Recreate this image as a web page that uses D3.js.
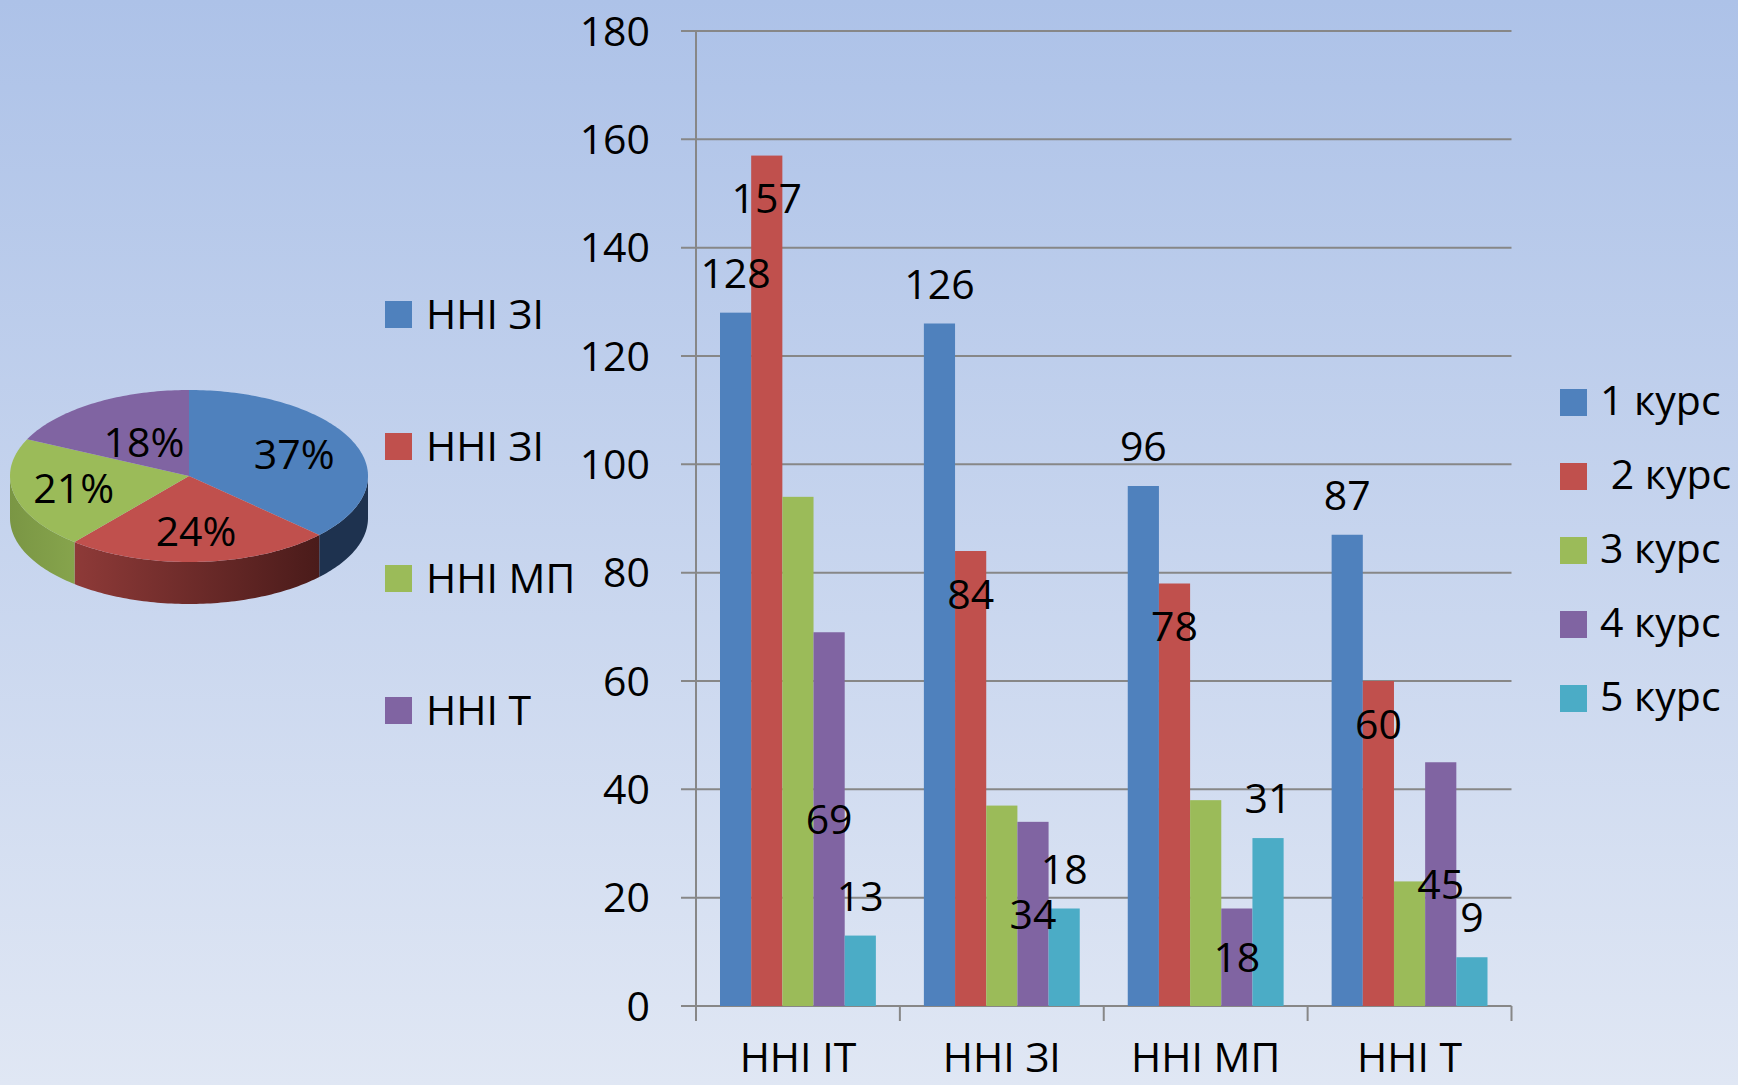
<!DOCTYPE html>
<html><head><meta charset="utf-8">
<script src="https://cdn.jsdelivr.net/npm/d3@7"></script>
<style>
html,body{margin:0;padding:0;overflow:hidden;}
svg{display:block;}
text{font-family:"Open Sans","Noto Sans","DejaVu Sans",sans-serif;fill:#000;}
</style></head>
<body>
<svg id="chart" width="1738" height="1085"></svg>
<script>
// ---------- data ----------
const categories = ["ННІ ІТ", "ННІ ЗІ", "ННІ МП", "ННІ Т"];
const seriesNames = ["1 курс", " 2 курс", "3 курс", "4 курс", "5 курс"];
const kurs1 = [128, 126, 96, 87];
const kurs2 = [157, 84, 78, 60];
const kurs3 = [94, 37, 38, 23];
const kurs4 = [69, 34, 18, 45];
const kurs5 = [13, 18, 31, 9];
const yTicks = [0, 20, 40, 60, 80, 100, 120, 140, 160, 180];
const pieLegend = ["ННІ ЗІ", "ННІ ЗІ", "ННІ МП", "ННІ Т"];
const pieLabels = ["37%", "24%", "21%", "18%"];

// ---------- style ----------
const seriesColors = ["#4F81BD", "#C0504D", "#9BBB59", "#8064A2", "#4BACC6"];
const labelMode = ["outside", "insideEnd", "none", "center", "outside"];
const FONT = 41;

const svg = d3.select("#chart");
const defs = svg.append("defs");
const bg = defs.append("linearGradient").attr("id", "bg").attr("x1", 0).attr("y1", 0).attr("x2", 0).attr("y2", 1);
bg.append("stop").attr("offset", "0%").attr("stop-color", "#ADC2E8");
bg.append("stop").attr("offset", "100%").attr("stop-color", "#E0E7F4");
svg.append("rect").attr("width", 1738).attr("height", 1085).attr("fill", "url(#bg)");

// ---------- bar chart ----------
const series = [kurs1, kurs2, kurs3, kurs4, kurs5];
const plotL = 696, plotR = 1511.5, plotT = 31, plotB = 1006;
const y = d3.scaleLinear().domain([0, 180]).range([plotB, plotT]);
const x0 = d3.scaleBand().domain(categories).range([plotL, plotR]).padding(0);
const x1 = d3.scaleBand().domain(d3.range(series.length)).range([0, x0.bandwidth()]).paddingInner(0).paddingOuter(0.77);

const grid = svg.append("g");
grid.selectAll("line").data(yTicks).join("line")
  .attr("x1", plotL - 15).attr("x2", plotR)
  .attr("y1", d => y(d)).attr("y2", d => y(d))
  .attr("stroke", "#878787").attr("stroke-width", 2);
svg.append("line").attr("x1", plotL).attr("x2", plotL).attr("y1", plotT).attr("y2", plotB + 15)
  .attr("stroke", "#878787").attr("stroke-width", 2);
svg.append("g").selectAll("line").data(categories).join("line")
  .attr("x1", (d, i) => plotL + (i + 1) * x0.step()).attr("x2", (d, i) => plotL + (i + 1) * x0.step())
  .attr("y1", plotB).attr("y2", plotB + 15)
  .attr("stroke", "#878787").attr("stroke-width", 2);

svg.append("g").selectAll("text").data(yTicks).join("text")
  .attr("x", 650).attr("y", d => y(d) + FONT * 0.357)
  .attr("text-anchor", "end").attr("font-size", FONT).text(d => d);

svg.append("g").selectAll("text").data(categories).join("text")
  .attr("x", d => x0(d) + x0.bandwidth() / 2).attr("y", 1072)
  .attr("text-anchor", "middle").attr("font-size", FONT).text(d => d);

const barG = svg.append("g");
series.forEach((vals, si) => {
  barG.append("g").selectAll("rect").data(vals).join("rect")
    .attr("x", (d, ci) => x0(categories[ci]) + x1(si))
    .attr("width", x1.bandwidth())
    .attr("y", d => y(d))
    .attr("height", d => plotB - y(d))
    .attr("fill", seriesColors[si]);
});
const half = FONT * 0.357;
series.forEach((vals, si) => {
  const mode = labelMode[si];
  if (mode === "none") return;
  barG.append("g").selectAll("text").data(vals).join("text")
    .attr("x", (d, ci) => x0(categories[ci]) + x1(si) + x1.bandwidth() / 2)
    .attr("y", d => {
      if (mode === "outside") return y(d) - 25;
      if (mode === "insideEnd") return y(d) + 43 + half;
      return (y(d) + plotB) / 2 + half;
    })
    .attr("text-anchor", "middle").attr("font-size", FONT).text(d => d);
});

// right legend
const lg = svg.append("g");
seriesNames.forEach((n, i) => {
  lg.append("rect").attr("x", 1560).attr("y", 389 + i * 74).attr("width", 27).attr("height", 27).attr("fill", seriesColors[i]);
  lg.append("text").attr("x", 1600).attr("y", 415 + i * 74).attr("font-size", FONT)
    .style("white-space", "pre").text(n);
});

// ---------- 3D pie ----------
const pieValues = series[0].map((_, ci) => d3.sum(series, s => s[ci]));
const pieColors = ["#4F81BD", "#C0504D", "#9BBB59", "#8064A2"];
const sideStops = [["#1E324F", "#1E324F"], ["#8E3A38", "#4A1B1A"], ["#7A9644", "#86A44C"], ["#5E4A7A", "#5E4A7A"]];
const cx = 189, cy = 476, rx = 179, ry = 86, depth = 42;
const arcs = d3.pie().sort(null)(pieValues);
const pt = (a, dy = 0) => [cx + rx * Math.sin(a), cy - ry * Math.cos(a) + dy];
function arcPts(a0, a1, dy) {
  const n = Math.max(2, Math.ceil(Math.abs(a1 - a0) / 0.02));
  return d3.range(n + 1).map(k => pt(a0 + (a1 - a0) * k / n, dy));
}
const pieG = svg.append("g");
arcs.forEach((a, i) => {
  const s0 = Math.max(a.startAngle, Math.PI / 2), s1 = Math.min(a.endAngle, 3 * Math.PI / 2);
  if (s1 <= s0) return;
  const top = arcPts(s0, s1, 0), bot = arcPts(s1, s0, depth);
  const xs = top.map(p => p[0]);
  const g = defs.append("linearGradient").attr("id", "side" + i).attr("gradientUnits", "userSpaceOnUse")
    .attr("x1", d3.min(xs)).attr("x2", d3.max(xs)).attr("y1", 0).attr("y2", 0);
  g.append("stop").attr("offset", "0%").attr("stop-color", sideStops[i][0]);
  g.append("stop").attr("offset", "100%").attr("stop-color", sideStops[i][1]);
  pieG.append("path").attr("d", "M" + top.concat(bot).map(p => p.join(",")).join("L") + "Z")
    .attr("fill", "url(#side" + i + ")");
});
arcs.forEach((a, i) => {
  const pts = [[cx, cy]].concat(arcPts(a.startAngle, a.endAngle, 0));
  pieG.append("path").attr("d", "M" + pts.map(p => p.join(",")).join("L") + "Z")
    .attr("fill", pieColors[i]);
});
const labelR = [0.64, 0.65, 0.66, 0.47];
arcs.forEach((a, i) => {
  const m = (a.startAngle + a.endAngle) / 2;
  pieG.append("text")
    .attr("x", cx + labelR[i] * rx * Math.sin(m))
    .attr("y", cy - labelR[i] * ry * Math.cos(m) + half)
    .attr("text-anchor", "middle").attr("font-size", FONT).text(pieLabels[i]);
});

// left legend
const pl = svg.append("g");
pieLegend.forEach((n, i) => {
  pl.append("rect").attr("x", 385).attr("y", 301 + i * 132).attr("width", 27).attr("height", 27).attr("fill", pieColors[i]);
  pl.append("text").attr("x", 426).attr("y", 329 + i * 132).attr("font-size", FONT).text(n);
});
</script>
</body></html>
